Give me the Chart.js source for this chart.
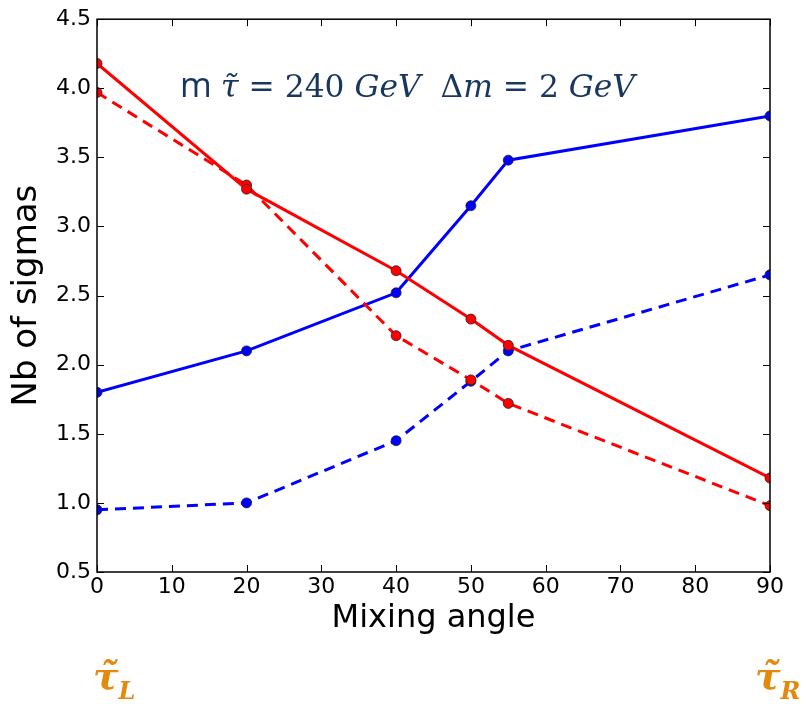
<!DOCTYPE html>
<html>
<head>
<meta charset="utf-8">
<script src="https://cdn.jsdelivr.net/npm/chart.js@4/dist/chart.umd.min.js"></script>
<style>
  html, body { margin: 0; padding: 0; background: #fff; }
  #wrap { width: 802px; height: 706px; }
</style>
</head>
<body>
<div id="wrap"><canvas id="sigmaChart"></canvas></div>
<script>
/* ------------ DATA ------------ */
const angles = [0, 20, 40, 50, 55, 90];
const redSolid = [4.18, 3.27, 2.68, 2.33, 2.14, 1.18];
const redDashed = [3.97, 3.30, 2.21, 1.89, 1.72, 0.98];
const blueSolid = [1.80, 2.10, 2.52, 3.15, 3.48, 3.80];
const blueDashed = [0.95, 1.00, 1.45, 1.88, 2.10, 2.65];
const yTicks = [0.5, 1.0, 1.5, 2.0, 2.5, 3.0, 3.5, 4.0, 4.5];
const xTicks = [0, 10, 20, 30, 40, 50, 60, 70, 80, 90];

const RED = '#ff0000';
const BLUE = '#0000ff';
const NAVY = '#17375e';
const ORANGE = '#e3890f';

const pts = ys => angles.map((x, i) => ({ x, y: ys[i] }));

function series(label, ys, color, dashed) {
  return {
    label,
    data: pts(ys),
    borderColor: color,
    backgroundColor: color,
    borderWidth: 3,
    borderDash: dashed ? [11, 7] : [],
    pointRadius: 5,
    pointHoverRadius: 5,
    pointBackgroundColor: color,
    pointBorderColor: '#222',
    pointBorderWidth: 0.8,
    tension: 0,
    clip: 0
  };
}

/* ------------ PLUGINS ------------ */
// matplotlib-style frame with inward ticks on all four sides
const framePlugin = {
  id: 'frame',
  afterDatasetsDraw(chart) {
    const { ctx, chartArea: a, scales: { x, y } } = chart;
    const len = 7;
    ctx.save();
    ctx.strokeStyle = '#000';
    ctx.lineWidth = 1;
    ctx.beginPath();
    xTicks.forEach(v => {
      const px = Math.round(x.getPixelForValue(v)) + 0.5;
      ctx.moveTo(px, a.bottom); ctx.lineTo(px, a.bottom - len);
      ctx.moveTo(px, a.top); ctx.lineTo(px, a.top + len);
    });
    yTicks.forEach(v => {
      const py = Math.round(y.getPixelForValue(v)) + 0.5;
      ctx.moveTo(a.left, py); ctx.lineTo(a.left + len, py);
      ctx.moveTo(a.right, py); ctx.lineTo(a.right - len, py);
    });
    ctx.stroke();
    ctx.lineWidth = 1.5;
    ctx.strokeRect(a.left, a.top, a.right - a.left, a.bottom - a.top);
    ctx.restore();
  }
};

// annotation text: mass line and the stau labels below the axis ends
const textPlugin = {
  id: 'notes',
  afterDraw(chart) {
    const { ctx, scales: { x } } = chart;
    ctx.save();
    ctx.textBaseline = 'alphabetic';

    const serif = '"DejaVu Serif", serif';
    const parts = [
      ['m ', '34px "Open Sans", sans-serif'],
      ['\u03C4\u0303', 'italic 32px ' + serif],
      [' = 240 ', '31px ' + serif],
      ['GeV', 'italic 31px ' + serif],
      ['  \u0394', '31px ' + serif],
      ['m', 'italic 31px ' + serif],
      [' = 2 ', '31px ' + serif],
      ['GeV', 'italic 31px ' + serif]
    ];
    let widths = parts.map(([t, f]) => { ctx.font = f; return ctx.measureText(t).width; });
    const total = widths.reduce((s, w) => s + w, 0);
    const k = 455 / total;
    let cx = 180;
    ctx.fillStyle = NAVY;
    parts.forEach(([t, f], i) => {
      ctx.font = f.replace(/(\d+)px/, (m, n) => (n * k).toFixed(1) + 'px');
      ctx.fillText(t, cx, 97);
      cx += widths[i] * k;
    });

    ctx.fillStyle = ORANGE;
    const tau = (px, sub) => {
      ctx.font = 'italic bold 38px ' + serif;
      ctx.fillText('\u03C4\u0303', px, 689);
      const w = ctx.measureText('\u03C4').width;
      ctx.font = 'italic bold 24px ' + serif;
      ctx.fillText(sub, px + w, 699);
    };
    tau(x.getPixelForValue(0) - 4, 'L');
    tau(x.getPixelForValue(90) - 15, 'R');
    ctx.restore();
  }
};

/* ------------ CHART ------------ */
const tickFont = { family: '"DejaVu Sans", sans-serif', size: 22 };

new Chart(document.getElementById('sigmaChart'), {
  type: 'line',
  data: {
    datasets: [
      series('red solid', redSolid, RED, false),
      series('red dashed', redDashed, RED, true),
      series('blue solid', blueSolid, BLUE, false),
      series('blue dashed', blueDashed, BLUE, true)
    ]
  },
  options: {
    responsive: true,
    maintainAspectRatio: false,
    animation: false,
    events: [],
    layout: { padding: { top: 18, right: 32, bottom: 66, left: 0 } },
    plugins: { legend: { display: false }, tooltip: { enabled: false } },
    scales: {
      x: {
        type: 'linear',
        min: 0,
        max: 90,
        afterBuildTicks: s => { s.ticks = xTicks.map(value => ({ value })); },
        afterFit: s => { s.height = 68; },
        grid: { display: false, drawTicks: false },
        border: { display: false },
        ticks: { font: tickFont, color: '#000', padding: 2, maxRotation: 0 },
        title: {
          display: true, text: 'Mixing angle', color: '#000',
          font: { family: '"DejaVu Sans", sans-serif', size: 32 },
          padding: { top: 0, bottom: 2 }
        }
      },
      y: {
        type: 'linear',
        min: 0.5,
        max: 4.5,
        afterBuildTicks: s => { s.ticks = yTicks.map(value => ({ value })); },
        afterFit: s => { s.width = 97; },
        grid: { display: false, drawTicks: false },
        border: { display: false },
        ticks: { font: tickFont, color: '#000', padding: 6, callback: v => v.toFixed(1) },
        title: {
          display: true, text: 'Nb of sigmas', color: '#000',
          font: { family: '"DejaVu Sans", sans-serif', size: 34 },
          padding: { top: 7, bottom: 0 }
        }
      }
    }
  },
  plugins: [framePlugin, textPlugin]
});
</script>
</body>
</html>
